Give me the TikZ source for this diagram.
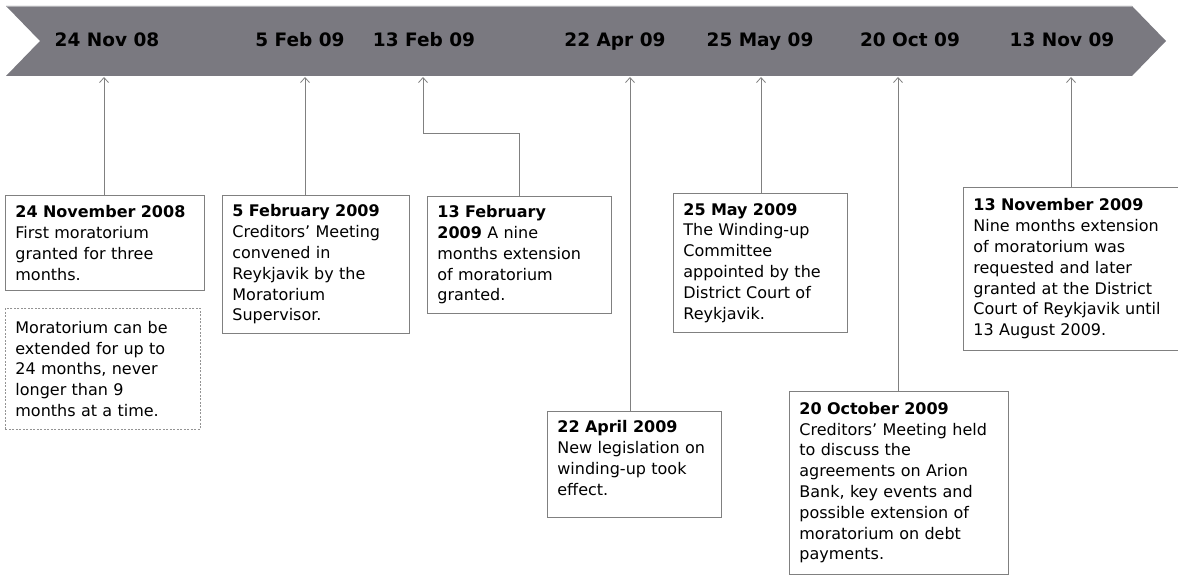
\documentclass[tikz,border=0pt]{standalone}
\usepackage{fontspec}
\setmainfont{DejaVu Sans}
\usetikzlibrary{arrows.meta}
\definecolor{bandgrey}{RGB}{122,121,128}
\definecolor{bandedge}{RGB}{176,176,180}
\definecolor{boxgrey}{RGB}{128,128,128}

\begin{document}
\begin{tikzpicture}[x=1pt, y=-1pt,
	datelbl/.style={font=\fontsize{18.5}{22}\selectfont\bfseries, anchor=base, inner sep=0pt},
	evbox/.style={draw=boxgrey, line width=0.8pt, fill=white, anchor=north west, align=left, inner xsep=10pt, inner ysep=9pt, font=\fontsize{16}{20.8}\selectfont},
	notebox/.style={evbox, draw=boxgrey!85, dash pattern=on 2pt off 1.5pt},
	evarrow/.style={draw=boxgrey, line width=0.8pt, -{Straight Barb[length=5pt,width=9pt]}}]
			\useasboundingbox (0,0) rectangle (1178,575);
			\fill[bandgrey] (6,6)--(1132,6)--(1166,41)--(1132,76)--(6,76)--(40,41)--cycle;
			\draw[bandedge] (6,6.5)--(1132,6.5);
			\node[datelbl] (d1) at (107,47) {24 Nov 08};
			\node[datelbl] (d2) at (300,47) {5 Feb 09};
			\node[datelbl] (d3) at (424,47) {13 Feb 09};
			\node[datelbl] (d4) at (615,47) {22 Apr 09};
			\node[datelbl] (d5) at (760,47) {25 May 09};
			\node[datelbl] (d6) at (910,47) {20 Oct 09};
			\node[datelbl] (d7) at (1062,47) {13 Nov 09};
			\coordinate (t1) at (104,77);
			\coordinate (t2) at (305,77);
			\coordinate (t3) at (423,77);
			\coordinate (t4) at (630,77);
			\coordinate (t5) at (761,77);
			\coordinate (t6) at (898,77);
			\coordinate (t7) at (1071,77);
			\node[evbox, text width=179pt, minimum height=95pt] (b1) at (5,195) {\textbf{24 November 2008}\\First moratorium\\granted for three\\months.};
			\node[notebox, text width=175pt, minimum height=121pt] (note) at (5,308) {Moratorium can be\\extended for up to\\24 months, never\\longer than 9\\months at a time.};
			\node[evbox, text width=167pt, minimum height=138pt] (b2) at (222,195) {\textbf{5 February 2009}\\Creditors’ Meeting\\convened in\\Reykjavik by the\\Moratorium\\Supervisor.};
			\node[evbox, text width=164pt, minimum height=117pt] (b3) at (427,196) {\textbf{13 February}\\\textbf{2009} A nine\\months extension\\of moratorium\\granted.};
			\node[evbox, text width=154pt, minimum height=106pt] (b4) at (547,411) {\textbf{22 April 2009}\\New legislation on\\winding-up took\\effect.\rule[-13pt]{0pt}{13pt}};
			\node[evbox, text width=154pt, minimum height=139pt] (b5) at (673,193) {\textbf{25 May 2009}\\The Winding-up\\Committee\\appointed by the\\District Court of\\Reykjavik.};
			\node[evbox, text width=199pt, minimum height=182.5pt] (b6) at (789,391) {\textbf{20 October 2009}\\Creditors’ Meeting held\\to discuss the\\agreements on Arion\\Bank, key events and\\possible extension of\\moratorium on debt\\payments.};
			\node[evbox, text width=194.5pt, minimum height=163pt] (b7) at (963,187) {\textbf{13 November 2009}\\Nine months extension\\of moratorium was\\requested and later\\granted at the District\\Court of Reykjavik until\\13 August 2009.};
			\draw[evarrow] (t1 |- b1.north)--(t1);
			\draw[evarrow] (t2 |- b2.north)--(t2);
			\draw[evarrow] (b3.north)--++(0,-63) -| (t3);
			\draw[evarrow] (t4 |- b4.north)--(t4);
			\draw[evarrow] (t5 |- b5.north)--(t5);
			\draw[evarrow] (t6 |- b6.north)--(t6);
			\draw[evarrow] (t7 |- b7.north)--(t7);
\end{tikzpicture}
\end{document}
